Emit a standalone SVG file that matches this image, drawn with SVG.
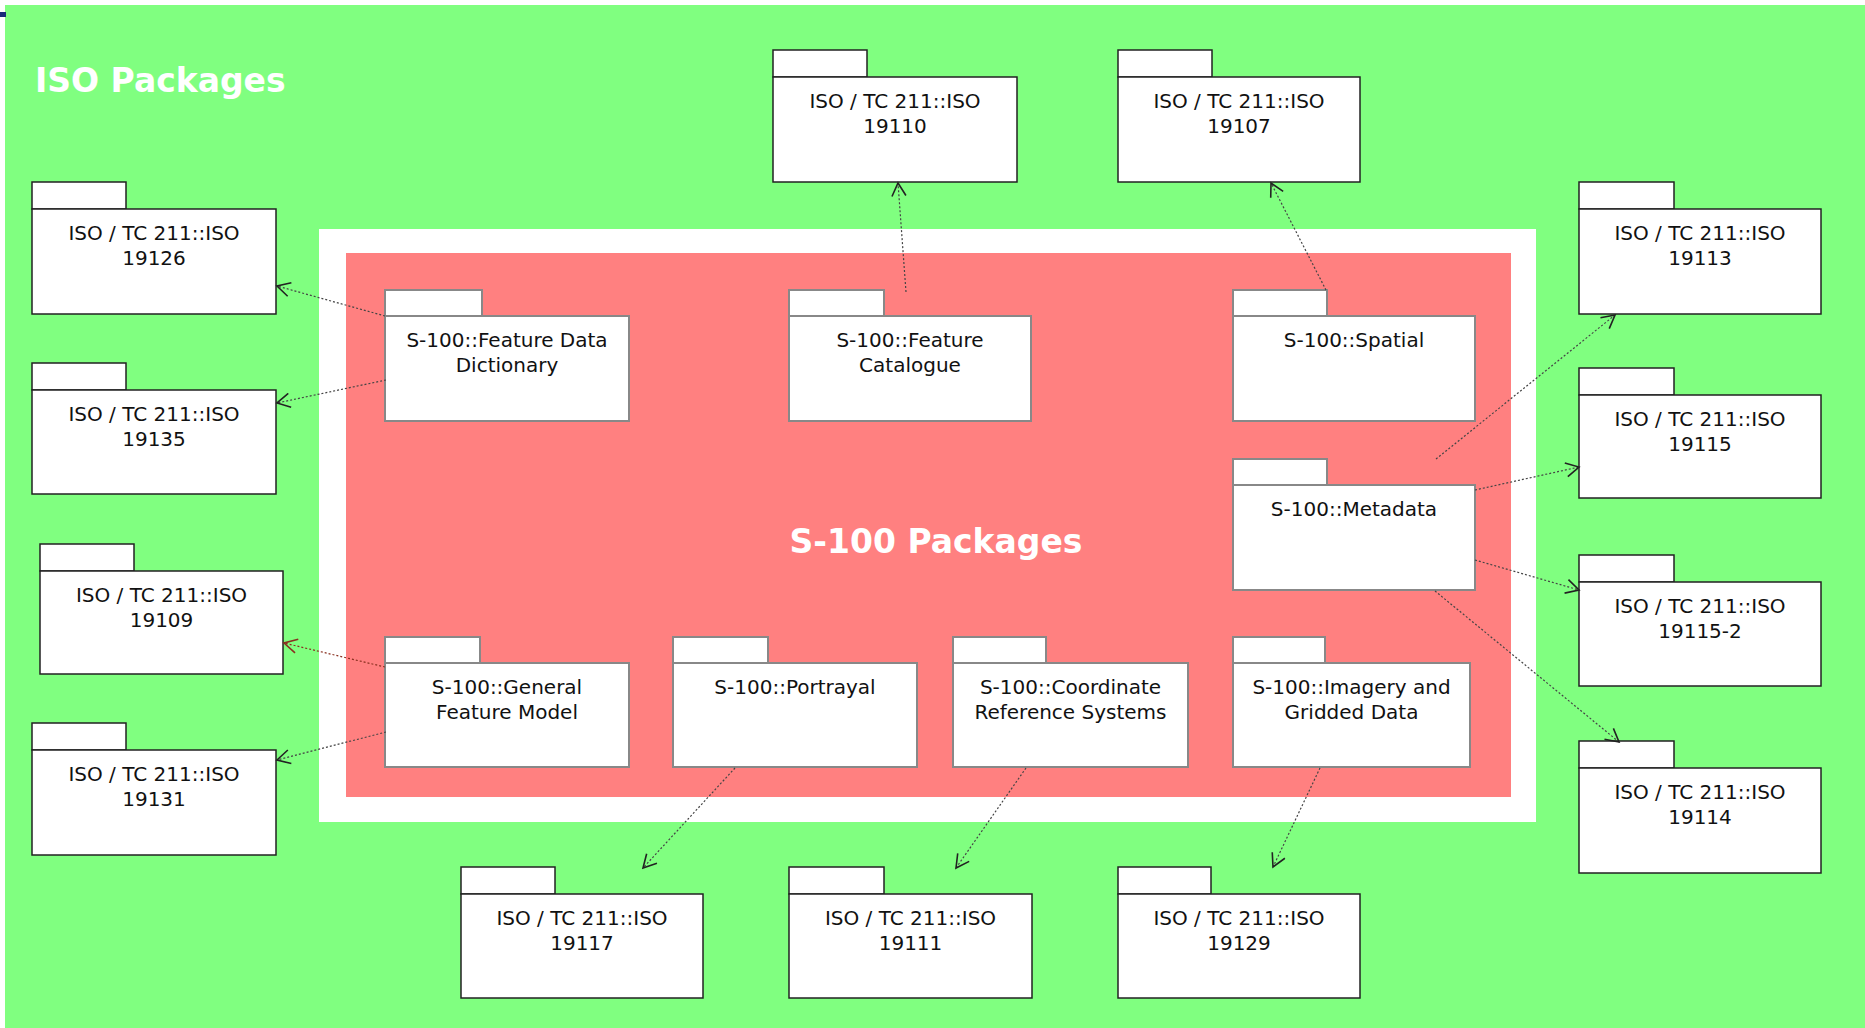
<svg xmlns="http://www.w3.org/2000/svg" width="1865" height="1028" viewBox="0 0 1865 1028">
<defs>
<style>
.tab{fill:#fff;stroke:#222;stroke-width:1.5}
.body{fill:#fff;stroke:#222;stroke-width:1.5}
.s100 .tab,.s100 .body{stroke:#888;stroke-width:2}
.lbl{font-family:"DejaVu Sans",Verdana,sans-serif;font-size:20px;fill:#111;text-anchor:middle}
.title{font-family:"DejaVu Sans",Verdana,sans-serif;font-weight:bold;font-size:33px;fill:#fff}
.dep{fill:none;stroke:#444;stroke-width:1.2;stroke-dasharray:2 2}
.red{stroke:#8a3020}
</style>
<marker id="arr" markerWidth="16" markerHeight="16" refX="14" refY="8" orient="auto" markerUnits="userSpaceOnUse">
<path d="M1,1 L14,8 L1,15" fill="none" stroke="#222" stroke-width="1.6" stroke-dasharray="none"/>
</marker>
<marker id="arrR" markerWidth="16" markerHeight="16" refX="14" refY="8" orient="auto" markerUnits="userSpaceOnUse">
<path d="M1,1 L14,8 L1,15" fill="none" stroke="#8a3020" stroke-width="1.6" stroke-dasharray="none"/>
</marker>
</defs>
<rect x="0" y="0" width="1865" height="1028" fill="#fff"/>
<rect x="5" y="5" width="1860" height="1023" fill="#80ff80"/>
<rect x="0" y="12" width="6" height="5" fill="#1a2a7a"/>
<text class="title" x="35" y="92">ISO Packages</text>
<rect x="319" y="229" width="1217" height="593" fill="#fff"/>
<rect x="346" y="253" width="1165" height="544" fill="#ff8080"/>
<text class="title" x="936" y="553" text-anchor="middle">S-100 Packages</text>

<g id="iso19126" class="iso"><rect class="tab" x="32" y="182" width="94" height="27"/><rect class="body" x="32" y="209" width="244" height="105"/><text class="lbl" x="154" y="240">ISO / TC 211::ISO<tspan x="154" dy="25">19126</tspan></text></g>
<g id="iso19135" class="iso"><rect class="tab" x="32" y="363" width="94" height="27"/><rect class="body" x="32" y="390" width="244" height="104"/><text class="lbl" x="154" y="421">ISO / TC 211::ISO<tspan x="154" dy="25">19135</tspan></text></g>
<g id="iso19109" class="iso"><rect class="tab" x="40" y="544" width="94" height="27"/><rect class="body" x="40" y="571" width="243" height="103"/><text class="lbl" x="161.5" y="602">ISO / TC 211::ISO<tspan x="161.5" dy="25">19109</tspan></text></g>
<g id="iso19131" class="iso"><rect class="tab" x="32" y="723" width="94" height="27"/><rect class="body" x="32" y="750" width="244" height="105"/><text class="lbl" x="154" y="781">ISO / TC 211::ISO<tspan x="154" dy="25">19131</tspan></text></g>
<g id="iso19110" class="iso"><rect class="tab" x="773" y="50" width="94" height="27"/><rect class="body" x="773" y="77" width="244" height="105"/><text class="lbl" x="895" y="108">ISO / TC 211::ISO<tspan x="895" dy="25">19110</tspan></text></g>
<g id="iso19107" class="iso"><rect class="tab" x="1118" y="50" width="94" height="27"/><rect class="body" x="1118" y="77" width="242" height="105"/><text class="lbl" x="1239" y="108">ISO / TC 211::ISO<tspan x="1239" dy="25">19107</tspan></text></g>
<g id="iso19113" class="iso"><rect class="tab" x="1579" y="182" width="95" height="27"/><rect class="body" x="1579" y="209" width="242" height="105"/><text class="lbl" x="1700" y="240">ISO / TC 211::ISO<tspan x="1700" dy="25">19113</tspan></text></g>
<g id="iso19115" class="iso"><rect class="tab" x="1579" y="368" width="95" height="27"/><rect class="body" x="1579" y="395" width="242" height="103"/><text class="lbl" x="1700" y="426">ISO / TC 211::ISO<tspan x="1700" dy="25">19115</tspan></text></g>
<g id="iso19115-2" class="iso"><rect class="tab" x="1579" y="555" width="95" height="27"/><rect class="body" x="1579" y="582" width="242" height="104"/><text class="lbl" x="1700" y="613">ISO / TC 211::ISO<tspan x="1700" dy="25">19115-2</tspan></text></g>
<g id="iso19114" class="iso"><rect class="tab" x="1579" y="741" width="95" height="27"/><rect class="body" x="1579" y="768" width="242" height="105"/><text class="lbl" x="1700" y="799">ISO / TC 211::ISO<tspan x="1700" dy="25">19114</tspan></text></g>
<g id="iso19117" class="iso"><rect class="tab" x="461" y="867" width="94" height="27"/><rect class="body" x="461" y="894" width="242" height="104"/><text class="lbl" x="582" y="925">ISO / TC 211::ISO<tspan x="582" dy="25">19117</tspan></text></g>
<g id="iso19111" class="iso"><rect class="tab" x="789" y="867" width="95" height="27"/><rect class="body" x="789" y="894" width="243" height="104"/><text class="lbl" x="910.5" y="925">ISO / TC 211::ISO<tspan x="910.5" dy="25">19111</tspan></text></g>
<g id="iso19129" class="iso"><rect class="tab" x="1118" y="867" width="93" height="27"/><rect class="body" x="1118" y="894" width="242" height="104"/><text class="lbl" x="1239" y="925">ISO / TC 211::ISO<tspan x="1239" dy="25">19129</tspan></text></g>

<g id="s100-fdd" class="s100"><rect class="tab" x="385" y="290" width="97" height="26"/><rect class="body" x="385" y="316" width="244" height="105"/><text class="lbl" x="507" y="347">S-100::Feature Data<tspan x="507" dy="25">Dictionary</tspan></text></g>
<g id="s100-fc" class="s100"><rect class="tab" x="789" y="290" width="95" height="26"/><rect class="body" x="789" y="316" width="242" height="105"/><text class="lbl" x="910" y="347">S-100::Feature<tspan x="910" dy="25">Catalogue</tspan></text></g>
<g id="s100-spatial" class="s100"><rect class="tab" x="1233" y="290" width="94" height="26"/><rect class="body" x="1233" y="316" width="242" height="105"/><text class="lbl" x="1354" y="347">S-100::Spatial</text></g>
<g id="s100-metadata" class="s100"><rect class="tab" x="1233" y="459" width="94" height="26"/><rect class="body" x="1233" y="485" width="242" height="105"/><text class="lbl" x="1354" y="516">S-100::Metadata</text></g>
<g id="s100-gfm" class="s100"><rect class="tab" x="385" y="637" width="95" height="26"/><rect class="body" x="385" y="663" width="244" height="104"/><text class="lbl" x="507" y="694">S-100::General<tspan x="507" dy="25">Feature Model</tspan></text></g>
<g id="s100-portrayal" class="s100"><rect class="tab" x="673" y="637" width="95" height="26"/><rect class="body" x="673" y="663" width="244" height="104"/><text class="lbl" x="795" y="694">S-100::Portrayal</text></g>
<g id="s100-crs" class="s100"><rect class="tab" x="953" y="637" width="93" height="26"/><rect class="body" x="953" y="663" width="235" height="104"/><text class="lbl" x="1070.5" y="694">S-100::Coordinate<tspan x="1070.5" dy="25">Reference Systems</tspan></text></g>
<g id="s100-imagery" class="s100"><rect class="tab" x="1233" y="637" width="92" height="26"/><rect class="body" x="1233" y="663" width="237" height="104"/><text class="lbl" x="1351.5" y="694">S-100::Imagery and<tspan x="1351.5" dy="25">Gridded Data</tspan></text></g>

<g id="connectors">
<path class="dep" d="M385,316 L277,286" marker-end="url(#arr)"/>
<path class="dep" d="M386,380 L277,403" marker-end="url(#arr)"/>
<path class="dep red" d="M385,667 L284,643" marker-end="url(#arrR)"/>
<path class="dep" d="M386,732 L277,760" marker-end="url(#arr)"/>
<path class="dep" d="M906,292 L898,183" marker-end="url(#arr)"/>
<path class="dep" d="M1326,290 L1271,183" marker-end="url(#arr)"/>
<path class="dep" d="M1436,459 L1615,315" marker-end="url(#arr)"/>
<path class="dep" d="M1475,490 L1579,467" marker-end="url(#arr)"/>
<path class="dep" d="M1475,560 L1579,590" marker-end="url(#arr)"/>
<path class="dep" d="M1435,591 L1619,742" marker-end="url(#arr)"/>
<path class="dep" d="M735,768 L643,868" marker-end="url(#arr)"/>
<path class="dep" d="M1026,768 L956,868" marker-end="url(#arr)"/>
<path class="dep" d="M1320,768 L1273,867" marker-end="url(#arr)"/>
</g>
</svg>
